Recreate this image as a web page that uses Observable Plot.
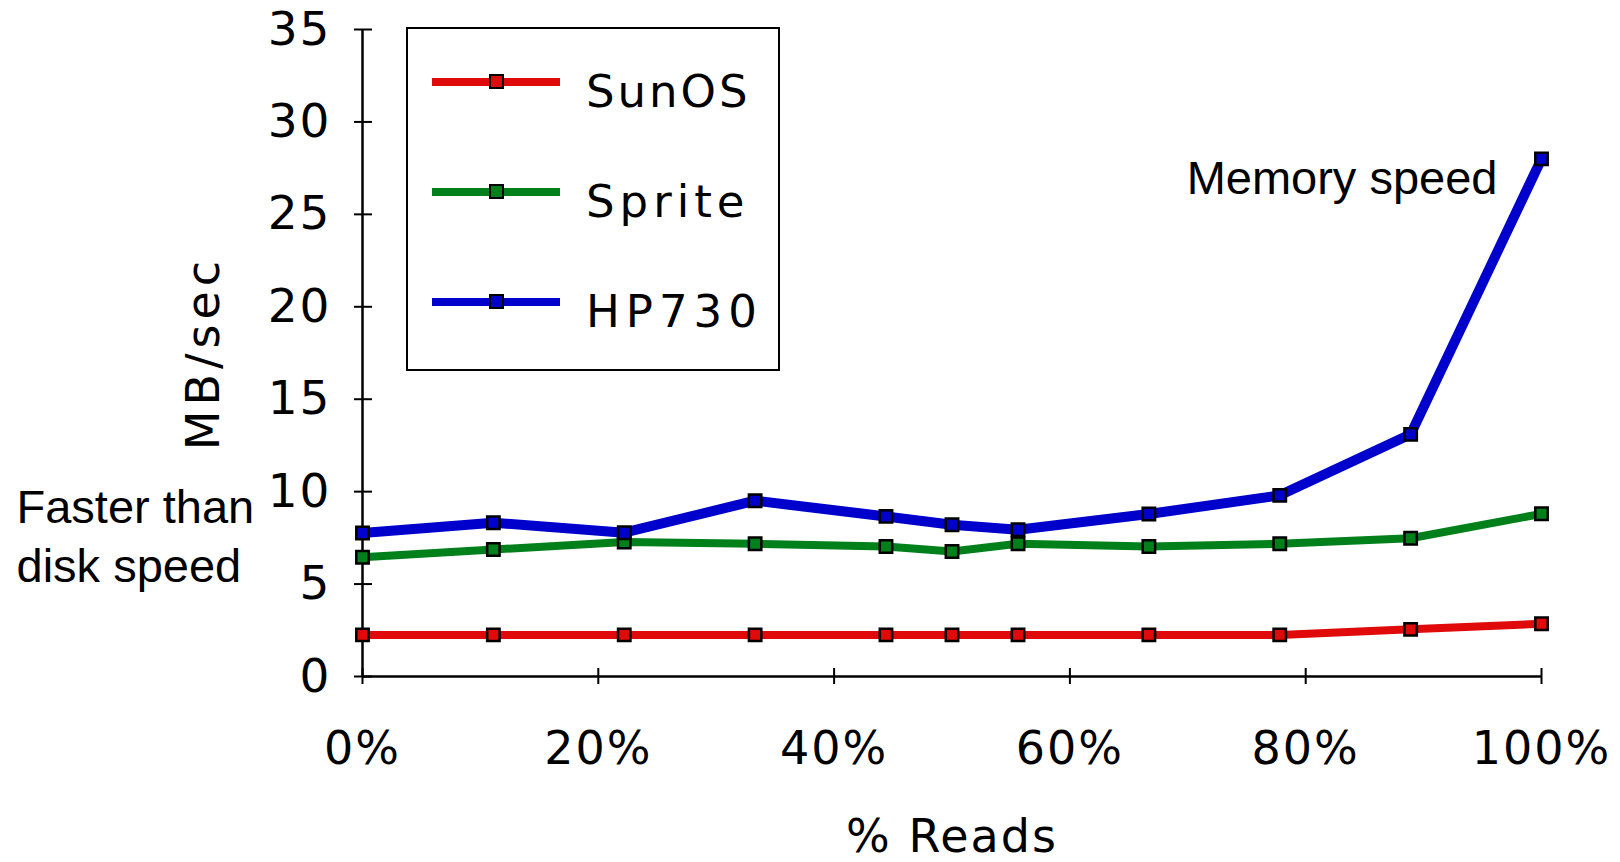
<!DOCTYPE html>
<html>
<head>
<meta charset="utf-8">
<script src="https://cdn.jsdelivr.net/npm/d3@7"></script>
<script src="https://cdn.jsdelivr.net/npm/@observablehq/plot@0.6"></script>
<style>
  body { margin: 0; background: #fff; }
  #wrap { position: relative; width: 1620px; height: 862px; overflow: hidden; background: #fff; }
  #legend { position: absolute; left: 406px; top: 27px; width: 374px; height: 344px; border: 2.5px solid #000; box-sizing: border-box; background: #fff; }
  .lg-line { position: absolute; height: 8px; }
  .lg-mark { position: absolute; width: 15px; height: 15px; border: 2.5px solid #000; box-sizing: border-box; }
  .lg-label { position: absolute; font-family: "DejaVu Sans", sans-serif; font-size: 45px; line-height: 1; white-space: nowrap; color: #000; }
  .ytick text { letter-spacing: 2px; }
  .xtick text { letter-spacing: 2px; }
</style>
</head>
<body>
<div id="wrap"></div>
<script>
// ---- data ----
const xPct = [0, 11.1, 22.2, 33.3, 44.4, 50, 55.6, 66.7, 77.8, 88.9, 100];
const sunos  = [2.25, 2.25, 2.25, 2.25, 2.25, 2.25, 2.25, 2.25, 2.25, 2.55, 2.85];
const sprite = [6.45, 6.87, 7.27, 7.18, 7.03, 6.76, 7.18, 7.03, 7.18, 7.48, 8.8];
const hp730  = [7.76, 8.32, 7.78, 9.51, 8.66, 8.21, 7.94, 8.79, 9.8, 13.1, 28.0];
const seriesNames = ["SunOS", "Sprite", "HP730"];
const seriesColors = ["#e00a0a", "#00801a", "#0000cc"];
const yTicks = [0, 5, 10, 15, 20, 25, 30, 35];
const xTicks = [0, 20, 40, 60, 80, 100];
const xLabel = "% Reads";
const yLabel = "MB/sec";
const memoryNote = "Memory speed";
const diskNote = "Faster than\ndisk speed";
const diskNoteAt = { x: 0, y: 7.6 };

const seriesValues = [sunos, sprite, hp730];
const rows = seriesNames.flatMap((s, i) => seriesValues[i].map((v, j) => ({ series: s, x: xPct[j], y: v })));
const lineWidths = [8, 8, 10];

const chart = Plot.plot({
  width: 1620,
  height: 862,
  marginLeft: 362,
  marginRight: 79,
  marginTop: 29,
  marginBottom: 186,
  style: { fontFamily: "DejaVu Sans", fontSize: "45px", background: "white", color: "black" },
  x: { domain: [0, 100] },
  y: { domain: [0, 35] },
  color: { domain: seriesNames, range: seriesColors },
  marks: [
    Plot.ruleX([0], { strokeWidth: 2.5 }),
    Plot.ruleY([0], { strokeWidth: 2.5 }),
    Plot.axisY(yTicks, { tickSize: 18, dx: 10, fill: "none", strokeWidth: 2, label: null }),
    Plot.axisY(yTicks, { tickSize: 0, tickPadding: 31, label: null, fontSize: 47, className: "ytick" }),
    Plot.axisX(xTicks, { tickSize: 16, dy: -8, fill: "none", strokeWidth: 2, label: null }),
    Plot.axisX(xTicks, { tickSize: 0, tickPadding: 55, tickFormat: d => d + "%", label: null, fontSize: 46, className: "xtick" }),
    ...seriesNames.map((s, i) =>
      Plot.line(rows.filter(d => d.series === s), { x: "x", y: "y", stroke: seriesColors[i], strokeWidth: lineWidths[i], strokeLinejoin: "round" })
    ),
    Plot.dot(rows, { x: "x", y: "y", symbol: "square", r: 7, fill: "series", stroke: "black", strokeWidth: 2.5 }),
    Plot.text(rows.filter(d => d.series === "HP730" && d.x === 100), {
      x: "x", y: "y", text: () => memoryNote, textAnchor: "end", dx: -44, dy: 20,
      fontFamily: "Liberation Sans", fontSize: 47
    }),
    Plot.text([diskNoteAt], {
      x: "x", y: "y", text: () => diskNote, textAnchor: "start", dx: -346, dy: -2,
      lineHeight: 1.255, fontFamily: "Liberation Sans", fontSize: 47
    }),
    Plot.text([yLabel], { frameAnchor: "left", dx: -158, rotate: -90, textAnchor: "middle", fontSize: 46, className: "ylab" }),
    Plot.text([xLabel], { frameAnchor: "bottom", dy: 175, textAnchor: "middle", fontSize: 46, className: "xlab" })
  ]
});

const wrap = document.getElementById("wrap");
wrap.appendChild(chart);
d3.select(chart).selectAll(".ylab text").style("letter-spacing", "5px");
d3.select(chart).selectAll(".xlab text").style("letter-spacing", "2px");

// ---- legend (HTML overlay) ----
const legend = d3.select(wrap).append("div").attr("id", "legend");
const rowTops = [82, 192, 302]; // absolute centers of legend rows
const labelSpacing = [3, 5, 6];
seriesNames.forEach((s, i) => {
  const cy = rowTops[i] - 27 - 2.5;
  legend.append("div").attr("class", "lg-line")
    .style("left", "24px").style("width", "128px")
    .style("top", (cy - 4) + "px").style("background", seriesColors[i]);
  legend.append("div").attr("class", "lg-mark")
    .style("left", (88 - 7.5) + "px").style("top", (cy - 7.5) + "px")
    .style("background", seriesColors[i]);
  legend.append("div").attr("class", "lg-label")
    .style("left", "178px").style("top", (cy - 13) + "px")
    .style("letter-spacing", labelSpacing[i] + "px")
    .text(s);
});
</script>
</body>
</html>
